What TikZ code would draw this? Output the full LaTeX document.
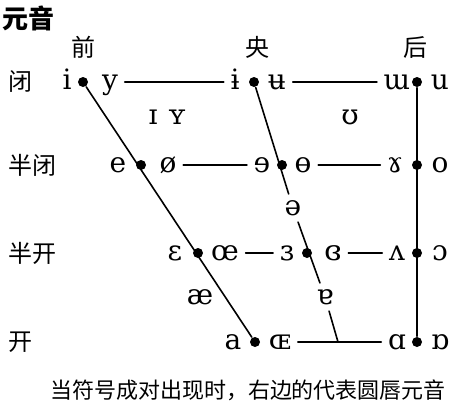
\documentclass[tikz,border=0pt]{standalone}
\usepackage{fontspec}
\setmainfont{DejaVu Serif}
\newfontfamily\cjk{Noto Sans CJK SC}

\begin{document}
\begin{tikzpicture}[x=1pt,y=-1pt,line width=1.6pt,line cap=round]
	\tikzstyle{dian}=[circle,fill=black,inner sep=0pt,minimum size=10pt];
	\tikzstyle{zi}=[inner sep=6pt,text height=14.5pt,text depth=0pt,font=\fontsize{28}{28}\selectfont];
	\tikzstyle{biao}=[inner sep=0pt,font=\cjk\fontsize{24}{24}\selectfont];
	\useasboundingbox (0,0) rectangle (450,416);
	%% titles
	\node[biao,anchor=west,font=\cjk\bfseries\fontsize{26}{26}\selectfont] (title) at (2,18) {元音};
	\node[biao] (front)   at (83,47)  {前};
	\node[biao] (central) at (257,47) {央};
	\node[biao] (back)    at (415,47) {后};
	\node[biao,anchor=west] (close)    at (8,82)  {闭};
	\node[biao,anchor=west] (closemid) at (8,165) {半闭};
	\node[biao,anchor=west] (openmid)  at (8,253) {半开};
	\node[biao,anchor=west] (open)     at (8,342) {开};
	\node[biao,font=\cjk\fontsize{22}{22}\selectfont] (note) at (248,390) {当符号成对出现时，右边的代表圆唇元音};
	%% dots
	\node[dian] (F1) at (83,82)   {};
	\node[dian] (C1) at (254,82)  {};
	\node[dian] (B1) at (417,82)  {};
	\node[dian] (F2) at (141,165) {};
	\node[dian] (C2) at (282,165) {};
	\node[dian] (B2) at (417,165) {};
	\node[dian] (F3) at (198,253) {};
	\node[dian] (C3) at (307,253) {};
	\node[dian] (B3) at (417,253) {};
	\node[dian] (F4) at (255,342) {};
	\node[dian] (B4) at (417,342) {};
	\coordinate (C4) at (338,342);
	%% vowels
	\node[zi] (i)     at (67,82)   {i};
	\node[zi] (y)     at (110,82)  {y};
	\node[zi] (ibar)  at (235,82)  {ɨ};
	\node[zi] (ubar)  at (277,82)  {ʉ};
	\node[zi] (turnm) at (397,82)  {ɯ};
	\node[zi] (u)     at (440,82)  {u};
	\node[zi] (smi)   at (153,117) {ɪ};
	\node[zi] (smy)   at (177,117) {ʏ};
	\node[zi] (hsu)   at (350,117) {ʊ};
	\node[zi] (e)     at (118,165) {e};
	\node[zi] (oslash) at (168,165) {ø};
	\node[zi] (reve)  at (262,165) {ɘ};
	\node[zi] (obar)  at (303,165) {ɵ};
	\node[zi] (ram)   at (395,165) {ɤ};
	\node[zi] (o)     at (440,165) {o};
	\node[zi] (schwa) at (293,208) {ə};
	\node[zi] (eps)   at (175,253) {ɛ};
	\node[zi] (oe)    at (225,253) {œ};
	\node[zi] (reveps) at (287,253) {ɜ};
	\node[zi] (clreveps) at (333,253) {ɞ};
	\node[zi] (turnv) at (397,253) {ʌ};
	\node[zi] (openo) at (440,253) {ɔ};
	\node[zi] (ae)    at (200,297) {æ};
	\node[zi] (turna) at (325,297) {ɐ};
	\node[zi] (a)     at (233,342) {a};
	\node[zi] (smoe)  at (280,342) {ɶ};
	\node[zi] (alpha) at (397,342) {ɑ};
	\node[zi] (turnalpha) at (440,342) {ɒ};
	%% lines
	\draw (F1) -- (F4);
	\draw (C1) -- (schwa) -- (turna) -- (C4);
	\draw (B1) -- (B4);
	\draw (y) -- (ibar);
	\draw (ubar) -- (turnm);
	\draw (oslash) -- (reve);
	\draw (obar) -- (ram);
	\draw (oe) -- (reveps);
	\draw (clreveps) -- (turnv);
	\draw (smoe) -- (alpha);
\end{tikzpicture}
\end{document}
